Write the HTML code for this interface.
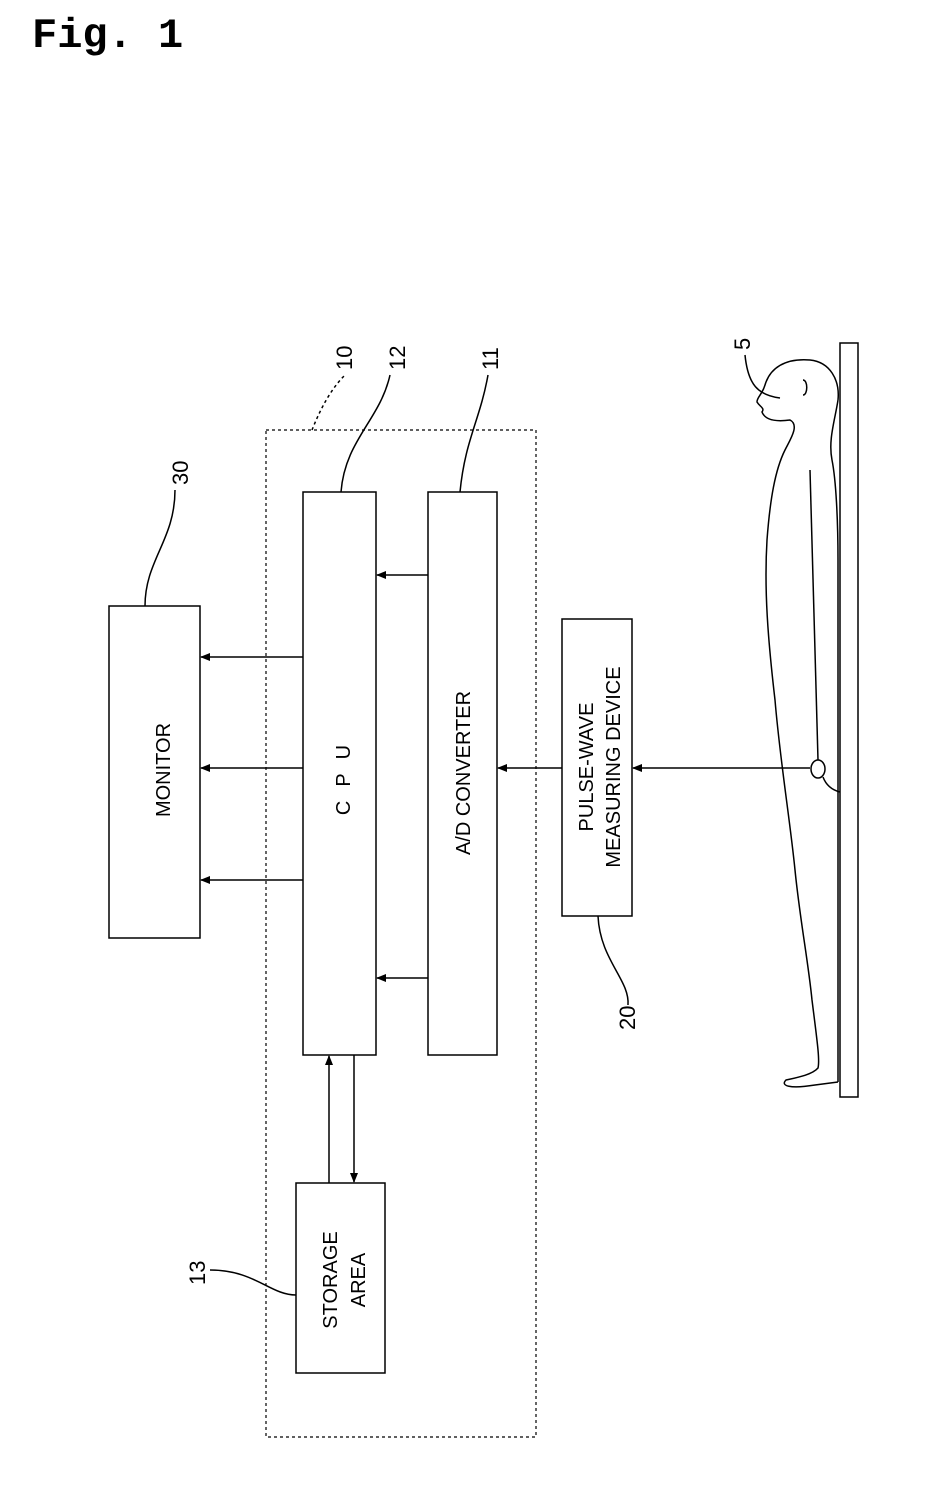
<!DOCTYPE html>
<html><head><meta charset="utf-8"><style>
html,body{margin:0;padding:0;background:#fff;}
svg{display:block}
text{font-family:"Liberation Sans",sans-serif;fill:#000}
</style></head><body>
<svg width="928" height="1491" viewBox="0 0 928 1491" xmlns="http://www.w3.org/2000/svg">
<defs><marker id="a" markerWidth="10" markerHeight="8" refX="9" refY="4" orient="auto" markerUnits="userSpaceOnUse"><path d="M0,0 L10,4 L0,8 z" fill="#000"/></marker></defs>
<text x="32" y="47" style="font-family:'Liberation Mono',monospace;font-weight:bold;font-size:42px">Fig. 1</text>
<g fill="none" stroke="#000" stroke-width="1.5">
<rect x="266" y="430" width="270" height="1007" stroke-dasharray="3,3" stroke-width="1.2"/>
<rect x="303" y="492" width="73" height="563"/>
<rect x="428" y="492" width="69" height="563"/>
<rect x="109" y="606" width="91" height="332"/>
<rect x="562" y="619" width="70" height="297"/>
<rect x="296" y="1183" width="89" height="190"/>
<rect x="840" y="343" width="18" height="754"/>
<line x1="428" y1="575" x2="377" y2="575" marker-end="url(#a)"/>
<line x1="428" y1="978" x2="377" y2="978" marker-end="url(#a)"/>
<line x1="303" y1="657" x2="201" y2="657" marker-end="url(#a)"/>
<line x1="303" y1="768" x2="201" y2="768" marker-end="url(#a)"/>
<line x1="303" y1="880" x2="201" y2="880" marker-end="url(#a)"/>
<line x1="562" y1="768" x2="498" y2="768" marker-end="url(#a)"/>
<line x1="810" y1="768" x2="633" y2="768" marker-end="url(#a)"/>
<line x1="329" y1="1183" x2="329" y2="1056" marker-end="url(#a)"/>
<line x1="354" y1="1055" x2="354" y2="1182" marker-end="url(#a)"/>
<path d="M145,606 C145,560 175,540 175,490" />
<path d="M312,430 C320,410 330,390 345,375" stroke-dasharray="3,3"/>
<path d="M341,492 C345,440 380,420 390,375"/>
<path d="M460,492 C465,440 480,420 488,375"/>
<path d="M598,916 C600,960 630,980 628,1005"/>
<path d="M296,1295 C270,1295 255,1270 210,1270"/>
<path d="M745,355 C748,385 758,395 780,398"/>
<path d="M838,400 C840,380 830,362 810,360 C785,358 770,368 765,385 C762,395 757,397 757,402 C760,407 765,408 762,412 C765,420 775,422 790,420 C800,425 790,440 785,450 C775,470 770,500 767,540 C764,590 768,640 775,700 C780,760 790,820 795,870 C800,920 808,960 812,1000 C817,1040 820,1060 818,1068 C812,1075 795,1078 786,1080 C780,1086 790,1089 815,1085 L838,1082"/>
<path d="M838,400 C835,420 828,440 832,460 C836,480 838,520 838,560 L838,1082"/>
<path d="M810,470 C812,560 815,660 818,760"/>
<ellipse cx="818" cy="769" rx="7" ry="9"/>
<path d="M823,777 C826,785 832,790 840,792"/>
<path d="M803,380 C808,380 808,395 803,395"/>
</g>
<g font-size="20">
<text transform="translate(170,770) rotate(-90)" text-anchor="middle">MONITOR</text>
<text transform="translate(350,773) rotate(-90)" text-anchor="middle" letter-spacing="14">CPU</text>
<text transform="translate(470,773) rotate(-90)" text-anchor="middle">A/D CONVERTER</text>
<text transform="translate(593,767) rotate(-90)" text-anchor="middle">PULSE-WAVE</text>
<text transform="translate(620,767) rotate(-90)" text-anchor="middle">MEASURING DEVICE</text>
<text transform="translate(337,1280) rotate(-90)" text-anchor="middle">STORAGE</text>
<text transform="translate(365,1280) rotate(-90)" text-anchor="middle">AREA</text>
</g>
<g font-size="22">
<text transform="translate(188,485) rotate(-90)">30</text>
<text transform="translate(352,370) rotate(-90)">10</text>
<text transform="translate(405,370) rotate(-90)">12</text>
<text transform="translate(498,370) rotate(-90)">11</text>
<text transform="translate(750,350) rotate(-90)">5</text>
<text transform="translate(635,1030) rotate(-90)">20</text>
<text transform="translate(205,1285) rotate(-90)">13</text>
</g>
</svg>
</body></html>
